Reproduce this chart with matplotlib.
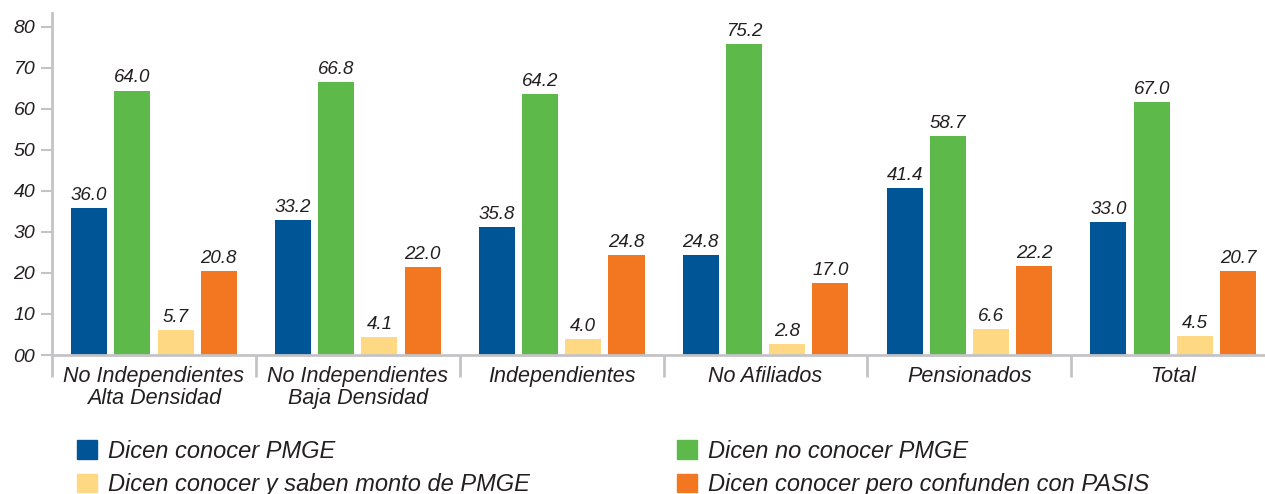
import matplotlib.pyplot as plt
from matplotlib.patches import Patch

# grupos y series
grupos = ['No Independientes\nAlta Densidad', 'No Independientes\nBaja Densidad',
          'Independientes', 'No Afiliados', 'Pensionados', 'Total']
series = ['Dicen conocer PMGE', 'Dicen no conocer PMGE',
          'Dicen conocer y saben monto de PMGE', 'Dicen conocer pero confunden con PASIS']
colores = ['#005596', '#5cb94a', '#fed882', '#f37721']

# altura de las barras
conocen = [35.8, 32.9, 31.2, 24.4, 40.7, 32.4]
no_conocen = [64.4, 66.5, 63.6, 75.8, 53.4, 61.6]
saben_monto = [6.1, 4.4, 3.9, 2.7, 6.3, 4.6]
confunden = [20.5, 21.4, 24.4, 17.5, 21.7, 20.5]

# etiquetas impresas sobre las barras
et_conocen = ['36.0', '33.2', '35.8', '24.8', '41.4', '33.0']
et_no_conocen = ['64.0', '66.8', '64.2', '75.2', '58.7', '67.0']
et_saben_monto = ['5.7', '4.1', '4.0', '2.8', '6.6', '4.5']
et_confunden = ['20.8', '22.0', '24.8', '17.0', '22.2', '20.7']

yticks = [0, 10, 20, 30, 40, 50, 60, 70, 80]
ytick_labels = ['00', '10', '20', '30', '40', '50', '60', '70', '80']

plt.rcParams['font.family'] = ['Liberation Sans', 'DejaVu Sans']
plt.rcParams['font.style'] = 'italic'
texto = '#231f20'
gris = '#c4c4c6'

fig = plt.figure(figsize=(12.65, 4.94), dpi=100)
ax = fig.add_axes([52 / 1265, 139 / 494, 1 - 52 / 1265, 342 / 494])

valores = [conocen, no_conocen, saben_monto, confunden]
etiquetas = [et_conocen, et_no_conocen, et_saben_monto, et_confunden]
ancho = 0.177
paso = 0.212
x = list(range(len(grupos)))
for i, (vals, ets) in enumerate(zip(valores, etiquetas)):
    pos = [g + (i - 1.5) * paso for g in x]
    barras = ax.bar(pos, vals, width=ancho, color=colores[i], label=series[i], zorder=2)
    ax.bar_label(barras, labels=ets, padding=3, fontsize=13.5, color=texto)

ax.set_xlim(-0.5, 5.45)
ax.set_ylim(0, 83.3)
ax.set_yticks(yticks)
ax.set_yticklabels(ytick_labels, fontsize=14, color=texto)
ax.set_xticks(x)
ax.set_xticklabels(grupos, fontsize=15.5, color=texto, linespacing=1.05)
ax.set_xticks([g - 0.5 for g in x], minor=True)
ax.tick_params(axis='x', which='major', length=0, pad=8)
ax.tick_params(axis='x', which='minor', length=16, width=2, color=gris, direction='out')
ax.tick_params(axis='y', length=8, width=1.5, color=gris, pad=4)

for lado in ['top', 'right']:
    ax.spines[lado].set_visible(False)
for lado in ['left', 'bottom']:
    ax.spines[lado].set_color(gris)
    ax.spines[lado].set_linewidth(2)

# leyenda en dos columnas
manijas = [Patch(color=c) for c in colores]
opciones = dict(loc='upper left', frameon=False, fontsize=17, handlelength=0.85,
                handleheight=0.85, handletextpad=0.45, labelspacing=0.43,
                borderaxespad=0, borderpad=0)
leg1 = fig.legend([manijas[0], manijas[2]], [series[0], series[2]],
                  bbox_to_anchor=(77 / 1265, 1 - 440 / 494), **opciones)
leg2 = fig.legend([manijas[1], manijas[3]], [series[1], series[3]],
                  bbox_to_anchor=(677 / 1265, 1 - 440 / 494), **opciones)
for leg in (leg1, leg2):
    for t in leg.get_texts():
        t.set_color(texto)

fig.savefig('out.png', dpi=100)
